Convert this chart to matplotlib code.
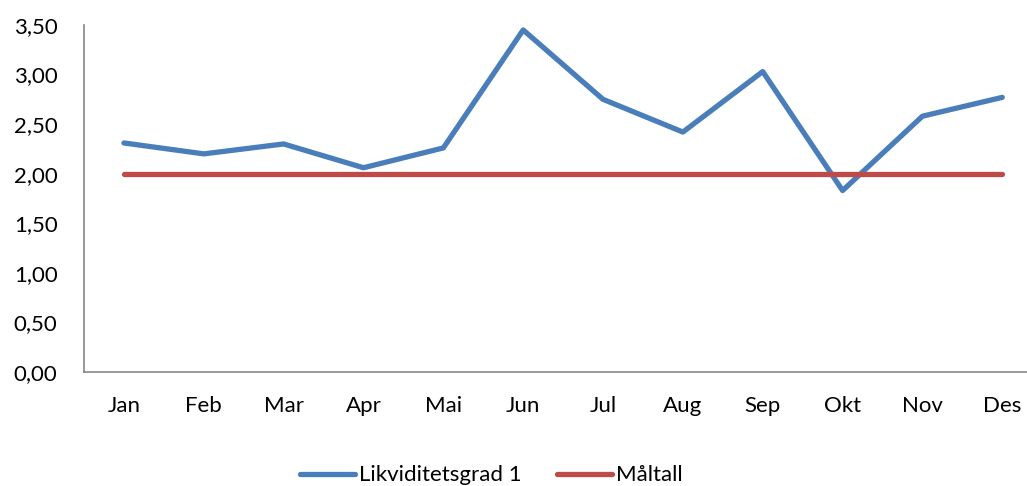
import matplotlib.pyplot as plt
from matplotlib.ticker import FuncFormatter

months = ['Jan', 'Feb', 'Mar', 'Apr', 'Mai', 'Jun', 'Jul', 'Aug', 'Sep', 'Okt', 'Nov', 'Des']
likviditetsgrad = [2.31, 2.20, 2.30, 2.06, 2.26, 3.45, 2.75, 2.42, 3.03, 1.83, 2.58, 2.77]
maltall = [2.0] * 12
y_ticks = [0.0, 0.5, 1.0, 1.5, 2.0, 2.5, 3.0, 3.5]

plt.rcParams['font.family'] = ['Lato', 'DejaVu Sans']

fig = plt.figure(figsize=(10.27, 4.86), dpi=100)
ax = fig.add_axes([0.0818, 0.2346, 0.933, 0.714])

x = list(range(len(months)))
ax.plot(x, likviditetsgrad, color='#4A7EBB', linewidth=3.8,
        solid_capstyle='round', solid_joinstyle='round', label='Likviditetsgrad 1')
ax.plot(x, maltall, color='#BE4B48', linewidth=3.8,
        solid_capstyle='round', label='Måltall')

ax.set_xlim(-0.5, 11.5)
ax.set_ylim(0, 3.5)
ax.set_yticks(y_ticks)
ax.yaxis.set_major_formatter(FuncFormatter(lambda v, p: f'{v:.2f}'.replace('.', ',')))
ax.set_xticks(x)
ax.set_xticklabels(months)
ax.tick_params(axis='both', length=0, labelsize=16)
ax.tick_params(axis='y', pad=19)
ax.tick_params(axis='x', pad=17)

for side in ['top', 'right']:
    ax.spines[side].set_visible(False)
for side in ['left', 'bottom']:
    ax.spines[side].set_color('#868686')
    ax.spines[side].set_linewidth(1.2)

fig.legend(loc='center', bbox_to_anchor=(0.478, 0.022), ncol=2, frameon=False,
           fontsize=16, handlelength=2.5, handletextpad=0.15, columnspacing=1.6)

fig.savefig('out.png', dpi=100)
